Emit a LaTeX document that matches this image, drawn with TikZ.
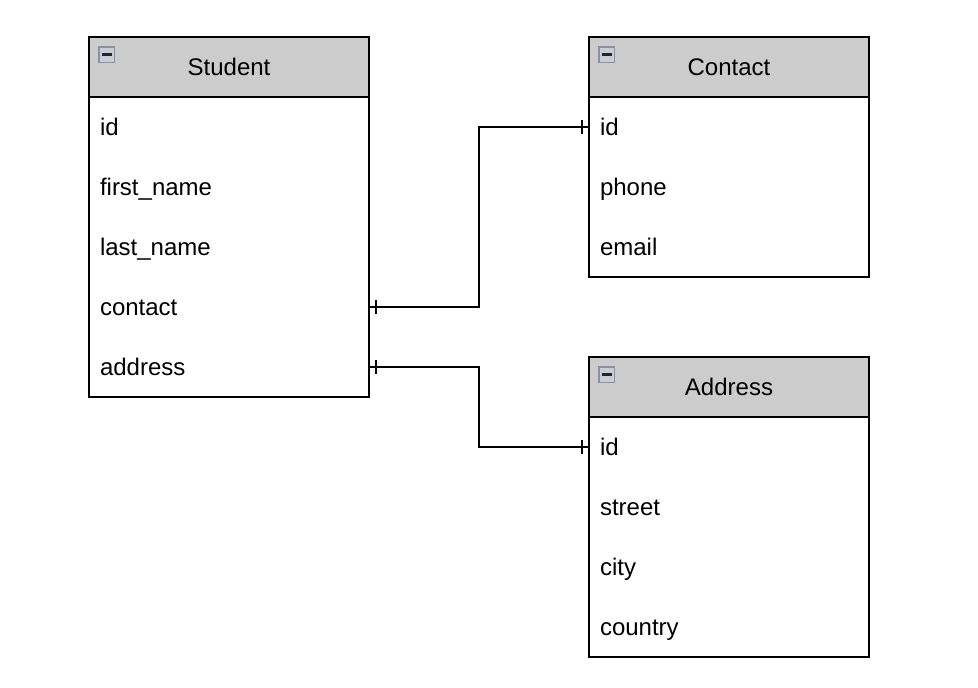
\documentclass[tikz,border=0pt]{standalone}
\usepackage{fontspec}
\setmainfont{Liberation Sans}
\definecolor{hdrgray}{HTML}{CCCCCC}
\definecolor{iconfill}{HTML}{C9CDD8}
\definecolor{iconborder}{HTML}{8C91A0}
\begin{document}
\begin{tikzpicture}[x=1pt,y=-1pt,
  txt/.style={font=\fontsize{24}{28}\selectfont},
  hdr/.style={txt, draw, line width=2pt, fill=hdrgray, minimum width=280pt, minimum height=60pt, inner sep=0pt, outer sep=0pt, anchor=north west},
  attr/.style={txt, anchor=north west, minimum height=60pt, text width=258pt, inner xsep=11pt, inner ysep=0pt, outer sep=0pt, align=left, text height=19pt, text depth=3pt},
  outline/.style={draw, line width=2pt},
  conn/.style={draw, line width=2pt},
  icon/.style={draw=iconborder, fill=iconfill, line width=1.5pt, minimum size=15.5pt, inner sep=0pt},
  minus/.style={line width=2.2pt, draw=black!85}
]
\useasboundingbox (0,0) rectangle (978,688);
\fill[white] (0,0) rectangle (978,688);

% Student
\node[hdr] (sh) at (89,37) {Student};
\node[attr] (s1) at (89,97) {id};
\node[attr] (s2) at (89,157) {first\_name};
\node[attr] (s3) at (89,217) {last\_name};
\node[attr] (s4) at (89,277) {contact};
\node[attr] (s5) at (89,337) {address};
\draw[outline] (sh.north west) rectangle (s5.south east);

% Contact
\node[hdr] (ch) at (589,37) {Contact};
\node[attr] (c1) at (589,97) {id};
\node[attr] (c2) at (589,157) {phone};
\node[attr] (c3) at (589,217) {email};
\draw[outline] (ch.north west) rectangle (c3.south east);

% Address
\node[hdr] (ah) at (589,357) {Address};
\node[attr] (a1) at (589,417) {id};
\node[attr] (a2) at (589,477) {street};
\node[attr] (a3) at (589,537) {city};
\node[attr] (a4) at (589,597) {country};
\draw[outline] (ah.north west) rectangle (a4.south east);

% collapse icons
\foreach \h in {sh,ch,ah}{
  \node[icon] (\h-icon) at ([xshift=17.5pt,yshift=-17.5pt]\h.north west) {};
  \draw[minus] ([xshift=-5pt]\h-icon.center) -- ([xshift=5pt]\h-icon.center);
}

% connectors
\draw[conn] (s4.east) -- ++(110,0) |- (c1.west);
\draw[conn] ([xshift=7pt,yshift=-7pt]s4.east) -- ([xshift=7pt,yshift=7pt]s4.east);
\draw[conn] ([xshift=-7pt,yshift=-7pt]c1.west) -- ([xshift=-7pt,yshift=7pt]c1.west);

\draw[conn] (s5.east) -- ++(110,0) |- (a1.west);
\draw[conn] ([xshift=7pt,yshift=-7pt]s5.east) -- ([xshift=7pt,yshift=7pt]s5.east);
\draw[conn] ([xshift=-7pt,yshift=-7pt]a1.west) -- ([xshift=-7pt,yshift=7pt]a1.west);
\end{tikzpicture}
\end{document}
